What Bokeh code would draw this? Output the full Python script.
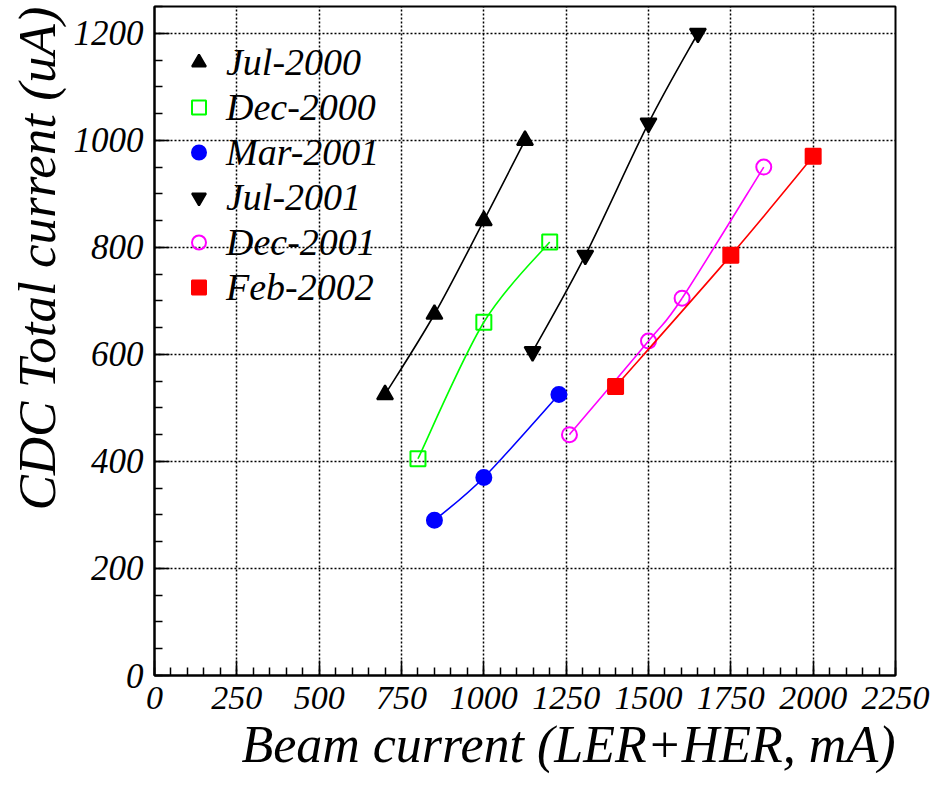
import numpy as np
from bokeh.plotting import figure
from bokeh.models import (SingleIntervalTicker, Title, Legend, LegendItem, Range1d)
from bokeh.embed import file_html
from bokeh.resources import INLINE

# ---- data ----
jul2000_x = [700, 850, 1000, 1125]
jul2000_y = [525, 675, 850, 1000]
dec2000_x = [800, 1000, 1200]
dec2000_y = [405, 660, 810]
mar2001_x = [850, 1000, 1228]
mar2001_y = [290, 370, 525]
jul2001_x = [1148, 1308, 1500, 1650]
jul2001_y = [605, 785, 1032, 1200]
dec2001_x = [1260, 1500, 1602, 1850]
dec2001_y = [450, 625, 705, 950]
feb2002_x = [1400, 1750, 2000]
feb2002_y = [540, 785, 970]

series_labels = ["Jul-2000", "Dec-2000", "Mar-2001", "Jul-2001", "Dec-2001", "Feb-2002"]

FONT = "Times New Roman"

p = figure(width=931, height=775, x_range=Range1d(0, 2250), y_range=Range1d(0, 1250),
           output_backend="svg", toolbar_location=None,
           min_border_left=0, min_border_right=36, min_border_top=6, min_border_bottom=0)

p.outline_line_color = "black"
p.outline_line_width = 2
p.background_fill_color = "white"

xt = SingleIntervalTicker(interval=250, num_minor_ticks=5)
yt = SingleIntervalTicker(interval=200, num_minor_ticks=4)
p.xaxis.ticker = xt
p.yaxis.ticker = yt
p.xgrid.ticker = xt
p.ygrid.ticker = yt
for g in (p.xgrid, p.ygrid):
    g.grid_line_color = "black"
    g.grid_line_dash = "2 2"
    g.grid_line_width = 1.5
    g.grid_line_alpha = 1.0

for ax in (p.xaxis, p.yaxis):
    ax.axis_line_width = 2
    ax.axis_line_color = "black"
    ax.major_tick_in = 15
    ax.major_tick_out = 0
    ax.minor_tick_in = 8
    ax.minor_tick_out = 0
    ax.major_tick_line_width = 1.5
    ax.minor_tick_line_width = 1.5
    ax.major_label_text_font = FONT
    ax.major_label_text_font_style = "italic"
    ax.major_label_text_color = "black"
    ax.axis_label = None
p.xaxis.major_label_text_font_size = "34px"
p.yaxis.major_label_text_font_size = "35px"
p.xaxis.major_label_standoff = 11
p.yaxis.major_label_standoff = 11


def bezier_parts(xs, ys):
    x = np.asarray(xs, dtype=float)
    y = np.asarray(ys, dtype=float)
    n = len(x)
    out = dict(x0=[], y0=[], x1=[], y1=[], cx0=[], cy0=[], cx1=[], cy1=[])
    for i in range(n - 1):
        im = max(i - 1, 0)
        ip2 = min(i + 2, n - 1)
        out["x0"].append(x[i]); out["y0"].append(y[i])
        out["x1"].append(x[i + 1]); out["y1"].append(y[i + 1])
        out["cx0"].append(x[i] + (x[i + 1] - x[im]) / 6.0)
        out["cy0"].append(y[i] + (y[i + 1] - y[im]) / 6.0)
        out["cx1"].append(x[i + 1] - (x[ip2] - x[i]) / 6.0)
        out["cy1"].append(y[i + 1] - (y[ip2] - y[i]) / 6.0)
    return out


specs = [
    (jul2000_x, jul2000_y, "black", "triangle", True, 16),
    (dec2000_x, dec2000_y, "#00ff00", "square", False, 15),
    (mar2001_x, mar2001_y, "#0000ff", "circle", True, 15),
    (jul2001_x, jul2001_y, "black", "inverted_triangle", True, 16),
    (dec2001_x, dec2001_y, "#ff00ff", "circle", False, 15),
    (feb2002_x, feb2002_y, "#ff0000", "square", True, 15),
]

items = []
for (xs, ys, col, mk, filled, sz), lab in zip(specs, series_labels):
    b = bezier_parts(xs, ys)
    p.bezier(x0=b["x0"], y0=b["y0"], x1=b["x1"], y1=b["y1"],
             cx0=b["cx0"], cy0=b["cy0"], cx1=b["cx1"], cy1=b["cy1"],
             line_color=col, line_width=1.6)
    r = p.scatter(xs, ys, marker=mk, size=sz, line_color=col, line_width=2,
                  fill_color=col if filled else None, fill_alpha=1.0 if filled else 0.0)
    items.append(LegendItem(label=lab, renderers=[r]))

legend = Legend(items=items, location=(27, 366))
legend.label_text_font = FONT
legend.label_text_font_style = "italic"
legend.label_text_font_size = "38px"
legend.label_text_color = "black"
legend.background_fill_alpha = 0
legend.border_line_alpha = 0
legend.glyph_width = 35
legend.glyph_height = 44
legend.label_height = 44
legend.spacing = 1
legend.margin = 0
legend.padding = 0
legend.label_standoff = 10
p.add_layout(legend)

p.add_layout(Title(text="Beam current (LER+HER, mA)", align="right", standoff=5,
                   text_font=FONT, text_font_style="italic",
                   text_font_size="52px", text_color="black"), "below")
p.add_layout(Title(text="CDC Total current (uA)", align="right",
                   text_font=FONT, text_font_style="italic",
                   text_font_size="53px", text_color="black"), "left")

open("out.html", "w").write(file_html(p, INLINE))
